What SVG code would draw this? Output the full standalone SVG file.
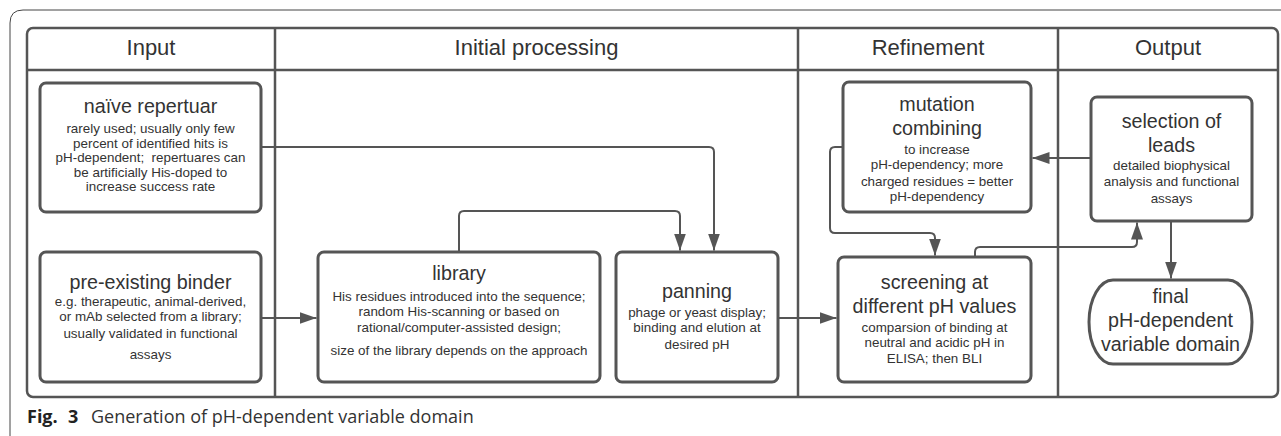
<svg xmlns="http://www.w3.org/2000/svg" width="1281" height="436" viewBox="0 0 1281 436">
  <defs>
    <marker id="arrow" viewBox="0 0 17 12" refX="17" refY="6" markerWidth="17" markerHeight="12" markerUnits="userSpaceOnUse" orient="auto">
      <path d="M0,0 L17,6 L0,12 Z" fill="#555"/>
    </marker>
    <style>
      .frame { fill: none; stroke: #444; stroke-width: 1; }
      .table { fill: none; stroke: #555; stroke-width: 2.5; }
      .box { fill: #fff; stroke: #555; stroke-width: 3; }
      .conn { fill: none; stroke: #555; stroke-width: 2; marker-end: url(#arrow); }
      text { font-family: "Liberation Sans", Arial, sans-serif; fill: #333; text-anchor: middle; }
      .head { font-size: 22px; }
      .title { font-size: 19.7px; }
      .body { font-size: 13.4px; }
      .cap { font-family: "Open Sans", "Liberation Sans", sans-serif; font-size: 18px; text-anchor: start; fill: #333; }
      .capb { font-weight: bold; fill: #222; }
    </style>
  </defs>

  <rect width="1281" height="436" fill="#fff"/>

  <!-- page frame -->
  <path class="frame" d="M10,436 V23 Q10,10 23,10 H1281"/>

  <!-- swimlane table -->
  <g id="lanes">
    <rect class="table" x="27" y="28" width="1251" height="369" rx="6"/>
    <line class="table" x1="27" y1="70" x2="1278" y2="70"/>
    <line class="table" x1="275" y1="28" x2="275" y2="397"/>
    <line class="table" x1="798" y1="28" x2="798" y2="397"/>
    <line class="table" x1="1058" y1="28" x2="1058" y2="397"/>
    <text class="head" x="151" y="55">Input</text>
    <text class="head" x="536.5" y="55">Initial processing</text>
    <text class="head" x="928" y="55">Refinement</text>
    <text class="head" x="1168" y="55">Output</text>
  </g>

  <!-- connectors -->
  <g id="connectors">
    <path class="conn" d="M261,147 H709 Q714,147 714,152 V250.5"/>
    <path class="conn" d="M459,252 V216 Q459,211 464,211 H675 Q680,211 680,216 V250.5"/>
    <path class="conn" d="M261,318 H316.5"/>
    <path class="conn" d="M778,318 H836.5"/>
    <path class="conn" d="M843,147 H835 Q830,147 830,152 V228 Q830,233 835,233 H930 Q935,233 935,238 V255.5"/>
    <path class="conn" d="M975,257 V252 Q975,247 980,247 H1132 Q1137,247 1137,242 V222.5"/>
    <path class="conn" d="M1091,158 H1032.5"/>
    <path class="conn" d="M1171,221 V278.5"/>
  </g>

  <g id="naive-repertuar">
    <rect class="box" x="40" y="83" width="221" height="129" rx="6"/>
    <text class="title" x="150.5" y="113">naïve repertuar</text>
    <text class="body" x="150.5" y="133">rarely used; usually only few</text>
    <text class="body" x="150.5" y="147.5">percent of identified hits is</text>
    <text class="body" x="150.5" y="162">pH-dependent;&#160; repertuares can</text>
    <text class="body" x="150.5" y="176.5">be artificially His-doped to</text>
    <text class="body" x="150.5" y="191.3">increase success rate</text>
  </g>

  <g id="pre-existing-binder">
    <rect class="box" x="40" y="252" width="221" height="130" rx="6"/>
    <text class="title" x="150.5" y="288.5">pre-existing binder</text>
    <text class="body" x="150.5" y="306.4">e.g. therapeutic, animal-derived,</text>
    <text class="body" x="150.5" y="321.4">or mAb selected from a library;</text>
    <text class="body" x="150.5" y="338">usually validated in functional</text>
    <text class="body" x="150.5" y="358.7">assays</text>
  </g>

  <g id="library">
    <rect class="box" x="318" y="252" width="282" height="130" rx="6"/>
    <text class="title" x="459" y="280">library</text>
    <text class="body" x="459" y="300.7">His residues introduced into the sequence;</text>
    <text class="body" x="459" y="315.7">random His-scanning or based on</text>
    <text class="body" x="459" y="331.7">rational/computer-assisted design;</text>
    <text class="body" x="459" y="354.7">size of the library depends on the approach</text>
  </g>

  <g id="panning">
    <rect class="box" x="616" y="252" width="162" height="130" rx="6"/>
    <text class="title" x="697" y="297.5">panning</text>
    <text class="body" x="697" y="317.4">phage or yeast display;</text>
    <text class="body" x="697" y="332.4">binding and elution at</text>
    <text class="body" x="697" y="348.7">desired pH</text>
  </g>

  <g id="mutation-combining">
    <rect class="box" x="843" y="82" width="188" height="130" rx="6"/>
    <text class="title" x="937" y="110.8">mutation</text>
    <text class="title" x="937" y="134.5">combining</text>
    <text class="body" x="937" y="153.7">to increase</text>
    <text class="body" x="937" y="169.4">pH-dependency; more</text>
    <text class="body" x="937" y="185.7">charged residues = better</text>
    <text class="body" x="937" y="201.4">pH-dependency</text>
  </g>

  <g id="screening">
    <rect class="box" x="838" y="257" width="193" height="125" rx="6"/>
    <text class="title" x="934.5" y="288.8">screening at</text>
    <text class="title" x="934.5" y="312.8">different pH values</text>
    <text class="body" x="934.5" y="332">comparsion of binding at</text>
    <text class="body" x="934.5" y="347.4">neutral and acidic pH in</text>
    <text class="body" x="934.5" y="363">ELISA; then BLI</text>
  </g>

  <g id="selection-of-leads">
    <rect class="box" x="1091" y="97" width="161" height="124" rx="6"/>
    <text class="title" x="1171.5" y="127.5">selection of</text>
    <text class="title" x="1171.5" y="151.8">leads</text>
    <text class="body" x="1171.5" y="170.4">detailed biophysical</text>
    <text class="body" x="1171.5" y="186.4">analysis and functional</text>
    <text class="body" x="1171.5" y="203">assays</text>
  </g>

  <g id="final-domain">
    <rect class="box" x="1089" y="280" width="163" height="84" rx="24" ry="42"/>
    <text class="title" x="1170.5" y="302.8">final</text>
    <text class="title" x="1170.5" y="326.8">pH-dependent</text>
    <text class="title" x="1170.5" y="350.8">variable domain</text>
  </g>

  <!-- figure caption -->
  <g id="caption">
    <text class="cap capb" x="27" y="423">Fig.</text>
    <text class="cap capb" x="68" y="423">3</text>
    <text class="cap" x="91" y="423">Generation of pH-dependent variable domain</text>
  </g>
</svg>
